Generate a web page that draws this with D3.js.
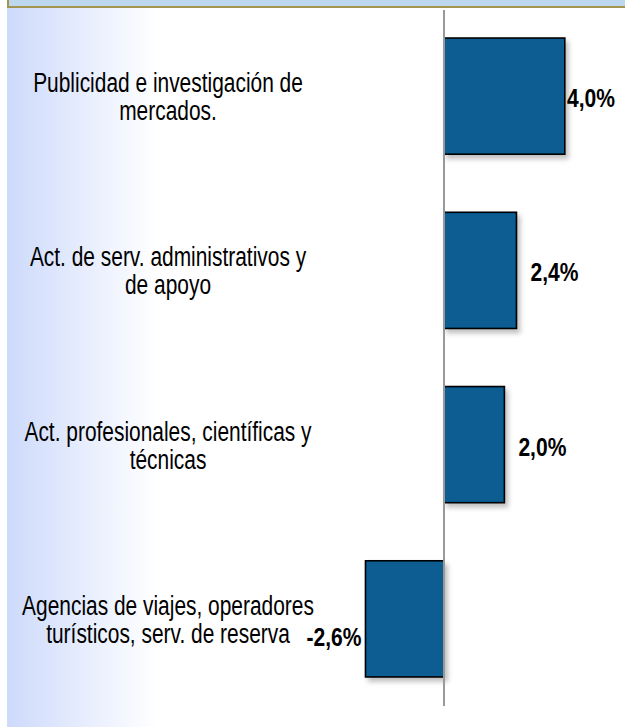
<!DOCTYPE html>
<html>
<head>
<meta charset="utf-8">
<script src="https://cdn.jsdelivr.net/npm/d3@7"></script>
<style>
  body { margin: 0; background: #fff; }
  svg { display: block; }
</style>
</head>
<body>
<div id="chart"></div>
<script>
// data
var categories = ["Publicidad", "Administrativos", "Profesionales", "Agencias"];
var categoryLines = [
  ["Publicidad e investigación de", "mercados."],
  ["Act. de serv. administrativos y", "de apoyo"],
  ["Act. profesionales, científicas y", "técnicas"],
  ["Agencias de viajes, operadores", "turísticos, serv. de reserva"]
];
var values = [4.0, 2.4, 2.0, -2.6];

var width = 625, height = 727;
var es = d3.formatLocale({decimal: ",", thousands: ".", grouping: [3], currency: ["", "€"], minus: "-"});
var fmt = function(v) { return es.format(".1f")(v) + "%"; };

var svg = d3.select("#chart")
  .append("svg")
  .attr("width", width)
  .attr("height", height);

var defs = svg.append("defs");
var grad = defs.append("linearGradient")
  .attr("id", "bg")
  .attr("x1", "0").attr("x2", "1").attr("y1", "0").attr("y2", "0");
grad.append("stop").attr("offset", "0").attr("stop-color", "#cddafb");
grad.append("stop").attr("offset", "1").attr("stop-color", "#ffffff");

var shadow = defs.append("filter").attr("id", "shadow")
  .attr("x", "-10%").attr("y", "-10%").attr("width", "130%").attr("height", "130%");
shadow.append("feDropShadow")
  .attr("dx", 3).attr("dy", 4).attr("stdDeviation", 2.5)
  .attr("flood-color", "#000").attr("flood-opacity", 0.25);

// background
svg.append("rect")
  .attr("x", 7).attr("y", 7)
  .attr("width", 150).attr("height", height - 7)
  .attr("fill", "url(#bg)");

// top band
svg.append("rect")
  .attr("x", 8).attr("y", -3)
  .attr("width", width - 7).attr("height", 10)
  .attr("fill", "#bdd7ee")
  .attr("stroke", "#a39452")
  .attr("stroke-width", 2);

// scales
var x = d3.scaleLinear()
  .domain([-3, 4.5])
  .range([353.4, 579.9]);

var y = d3.scaleBand()
  .domain(categories)
  .range([9, 706])
  .paddingInner(1 / 3)
  .paddingOuter(1 / 6);

// bars
svg.selectAll(".bar")
  .data(values)
  .enter()
  .append("rect")
  .attr("class", "bar")
  .attr("x", d => x(Math.min(0, d)))
  .attr("y", (d, i) => y(categories[i]))
  .attr("width", d => Math.abs(x(d) - x(0)))
  .attr("height", y.bandwidth())
  .attr("fill", "#075c92")
  .attr("stroke", "#000")
  .attr("stroke-width", 1.6)
  .attr("filter", "url(#shadow)");

// zero axis
svg.append("line")
  .attr("x1", x(0)).attr("x2", x(0))
  .attr("y1", 10).attr("y2", 706)
  .attr("stroke", "#999")
  .attr("stroke-width", 2);

// category labels
var sxCat = 0.775, lineH = 28;
var cats = svg.selectAll(".cat")
  .data(categoryLines)
  .enter()
  .append("text")
  .attr("class", "cat")
  .attr("font-family", "Liberation Sans, Arial, sans-serif")
  .attr("font-size", 27)
  .attr("fill", "#000")
  .attr("text-anchor", "middle")
  .attr("transform", function(d, i) {
    var cy = y(categories[i]) + y.bandwidth() / 2;
    var base = cy - (d.length - 1) * lineH / 2 + 10;
    return "translate(168," + base + ") scale(" + sxCat + ",1)";
  });

cats.selectAll("tspan")
  .data(d => d)
  .enter()
  .append("tspan")
  .attr("x", 0)
  .attr("dy", (d, i) => i === 0 ? 0 : lineH)
  .text(d => d);

// value labels
var sxVal = 0.81;
svg.selectAll(".val")
  .data(values)
  .enter()
  .append("text")
  .attr("class", "val")
  .attr("font-family", "Liberation Sans, Arial, sans-serif")
  .attr("font-weight", "bold")
  .attr("font-size", 26)
  .attr("fill", "#000")
  .attr("text-anchor", d => d < 0 ? "end" : "start")
  .text(d => fmt(d))
  .attr("transform", function(d, i) {
    var cy = y(categories[i]) + y.bandwidth() / 2 + 11;
    var w = this.getComputedTextLength() * sxVal;
    var px;
    if (d < 0) {
      // sits on the second line of the category text
      px = x(d) - 4;
      cy += lineH / 2 + 2;
    } else {
      px = Math.min(x(d) + 14, width - 10 - w);
    }
    return "translate(" + px + "," + cy + ") scale(" + sxVal + ",1)";
  });
</script>
</body>
</html>
